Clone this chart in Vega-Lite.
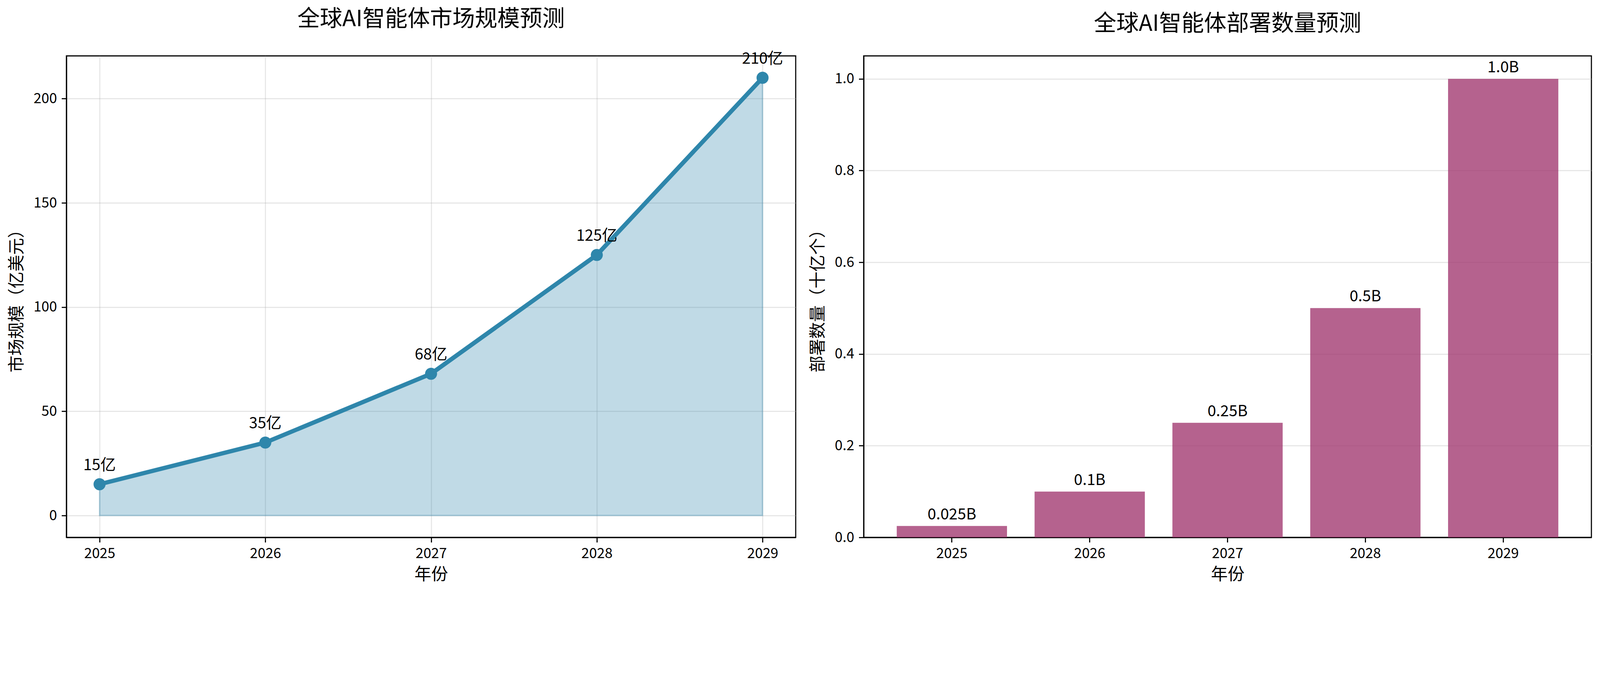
{
  "$schema": "https://vega.github.io/schema/vega-lite/v6.json",
  "background": "white",
  "padding": {"left": 21, "top": 19, "right": 10, "bottom": 8},
  "spacing": 33,
  "config": {
    "font": "Noto Sans CJK SC",
    "view": {"stroke": "black", "strokeWidth": 2.8},
    "title": {"fontSize": 57.5, "fontWeight": "normal", "color": "black", "anchor": "middle", "offset": 52},
    "axis": {
      "labelFontSize": 36,
      "labelColor": "black",
      "labelPadding": 12,
      "tickColor": "black",
      "tickSize": 12.5,
      "tickWidth": 2.8,
      "domainColor": "black",
      "domainWidth": 2.8,
      "gridColor": "#b0b0b0",
      "gridOpacity": 0.3,
      "gridWidth": 2.8,
      "titleFontSize": 43,
      "titleFontWeight": "normal",
      "titleColor": "black",
      "zindex": 1
    },
    "axisY": {"titlePadding": 20},
    "axisX": {"titlePadding": 15}
  },
  "datasets": {
    "market": [
      {"year": 2025, "value": 15, "label": "15亿"},
      {"year": 2026, "value": 35, "label": "35亿"},
      {"year": 2027, "value": 68, "label": "68亿"},
      {"year": 2028, "value": 125, "label": "125亿"},
      {"year": 2029, "value": 210, "label": "210亿"}
    ],
    "deploy": [
      {"year": "2025", "value": 0.025, "label": "0.025B"},
      {"year": "2026", "value": 0.1, "label": "0.1B"},
      {"year": "2027", "value": 0.25, "label": "0.25B"},
      {"year": "2028", "value": 0.5, "label": "0.5B"},
      {"year": "2029", "value": 1.0, "label": "1.0B"}
    ]
  },
  "hconcat": [
    {
      "title": "全球AI智能体市场规模预测",
      "width": 1867,
      "height": 1232,
      "data": {"name": "market"},
      "encoding": {
        "x": {
          "field": "year",
          "type": "quantitative",
          "title": "年份",
          "scale": {"domain": [2024.8, 2029.2], "nice": false, "zero": false},
          "axis": {"values": [2025, 2026, 2027, 2028, 2029], "format": "d", "grid": true}
        },
        "y": {
          "field": "value",
          "type": "quantitative",
          "title": "市场规模（亿美元）",
          "scale": {"domain": [-10.5, 220.5], "nice": false, "zero": false},
          "axis": {"values": [0, 50, 100, 150, 200], "grid": true}
        }
      },
      "layer": [
        {
          "mark": {
            "type": "area",
            "color": "#2E86AB",
            "fillOpacity": 0.3,
            "stroke": "#2E86AB",
            "strokeOpacity": 0.3,
            "strokeWidth": 3.6
          },
          "encoding": {"y2": {"datum": 0}}
        },
        {
          "mark": {"type": "line", "color": "#2E86AB", "strokeWidth": 11},
          "encoding": {}
        },
        {
          "mark": {"type": "point", "filled": true, "color": "#2E86AB", "size": 950, "opacity": 1},
          "encoding": {}
        },
        {
          "mark": {"type": "text", "fontSize": 39.5, "baseline": "alphabetic", "align": "center", "dy": -36, "color": "black"},
          "encoding": {"text": {"field": "label"}}
        }
      ]
    },
    {
      "title": "全球AI智能体部署数量预测",
      "width": 1863,
      "height": 1232,
      "data": {"name": "deploy"},
      "encoding": {
        "x": {
          "field": "year",
          "type": "ordinal",
          "title": "年份",
          "scale": {"paddingInner": 0.2, "paddingOuter": 0.24},
          "axis": {"labelAngle": 0, "grid": false}
        },
        "y": {
          "field": "value",
          "type": "quantitative",
          "title": "部署数量（十亿个）",
          "scale": {"domain": [0, 1.05], "nice": false},
          "axis": {"values": [0, 0.2, 0.4, 0.6, 0.8, 1.0], "format": ".1f", "grid": true}
        }
      },
      "layer": [
        {
          "mark": {"type": "bar", "color": "#A23B72", "opacity": 0.8}
        },
        {
          "mark": {"type": "text", "fontSize": 39.5, "baseline": "alphabetic", "align": "center", "dy": -17, "color": "black"},
          "encoding": {"text": {"field": "label"}}
        }
      ]
    }
  ]
}
